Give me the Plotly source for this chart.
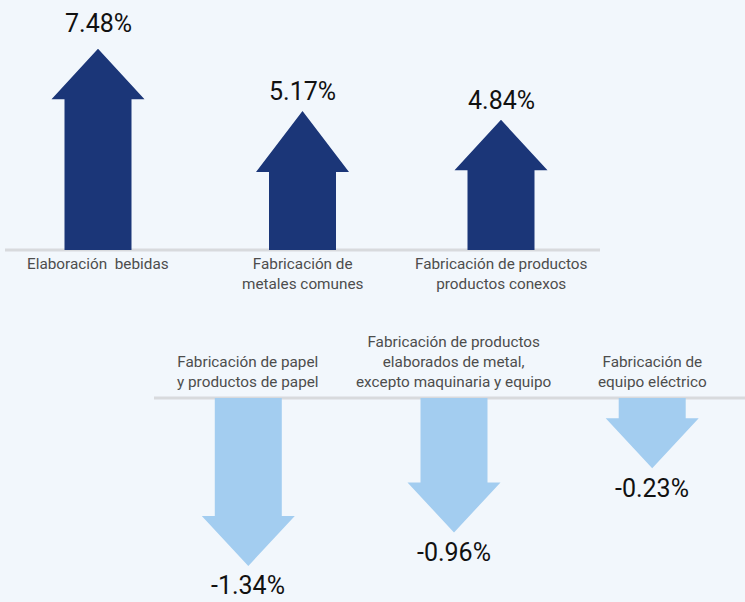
import plotly.graph_objects as go

# ---- data ----
up_categories = ["Elaboración  bebidas",
                 "Fabricación de<br>metales comunes",
                 "Fabricación de productos<br>productos conexos"]
up_values = [7.48, 5.17, 4.84]

down_categories = ["Fabricación de papel<br>y productos de papel",
                   "Fabricación de productos<br>elaborados de metal,<br>excepto maquinaria y equipo",
                   "Fabricación de<br>equipo eléctrico"]
down_values = [-1.34, -0.96, -0.23]

# ---- style / layout constants ----
W, H = 745, 602
BG = "#f2f7fc"
NAVY = "#1b3678"
LIGHT = "#a3cdf0"
BASE_COL = "#d8dadd"
FONT = "Roboto"
CAT_SIZE = 15.3
VAL_SIZE = 25

UP_X = [98, 302.5, 501]          # arrow centres (px along x axis)
DOWN_X = [248.3, 454, 652.2]
UP_BASE_PX, DOWN_BASE_PX = 250, 398
UP_SCALE = 26.9                  # px per % (top row, whole arrow)
DOWN_SCALE = 88.0                # px per % (bottom row, shaft)
SHAFT_HALF = 33.5
HEAD_HALF = 46.5
UP_HEAD_PX = [50.5, 61, 50.5]
DOWN_HEAD_PX = [50, 50, 50]
UP_LABEL_GAP = [24, 18.5, 18.5]

fig = go.Figure()

# y ranges so that axis coordinates map onto figure pixels
y1_range = [-(H - UP_BASE_PX) / UP_SCALE, UP_BASE_PX / UP_SCALE]
y2_range = [-(H - DOWN_BASE_PX) / DOWN_SCALE, DOWN_BASE_PX / DOWN_SCALE]

annotations = []

def fmt(v):
    return f"{v:.2f}%"

# up arrows (yaxis)
for i, (cat, v) in enumerate(zip(up_categories, up_values)):
    cx = UP_X[i]
    tip = v
    hb = v - UP_HEAD_PX[i] / UP_SCALE
    xs = [cx - SHAFT_HALF, cx - SHAFT_HALF, cx - HEAD_HALF, cx, cx + HEAD_HALF,
          cx + SHAFT_HALF, cx + SHAFT_HALF, cx - SHAFT_HALF]
    ys = [0, hb, hb, tip, hb, hb, 0, 0]
    fig.add_trace(go.Scatter(x=xs, y=ys, mode="lines", fill="toself",
                             fillcolor=NAVY, line=dict(width=0, color=NAVY),
                             hoverinfo="skip", showlegend=False, yaxis="y"))
    annotations.append(dict(x=cx, y=tip, xref="x", yref="y", text=fmt(v),
                            showarrow=False, yanchor="middle",
                            yshift=UP_LABEL_GAP[i] + 1,
                            font=dict(family=FONT, size=VAL_SIZE, color="#111111")))
    annotations.append(dict(x=cx, y=0, xref="x", yref="y", text=cat,
                            showarrow=False, yanchor="top", yshift=-3,
                            font=dict(family=FONT, size=CAT_SIZE, color="#4d4d4d")))

# down arrows (yaxis2)
for i, (cat, v) in enumerate(zip(down_categories, down_values)):
    cx = DOWN_X[i]
    hb = v
    tip = v - DOWN_HEAD_PX[i] / DOWN_SCALE
    xs = [cx - SHAFT_HALF, cx - SHAFT_HALF, cx - HEAD_HALF, cx, cx + HEAD_HALF,
          cx + SHAFT_HALF, cx + SHAFT_HALF, cx - SHAFT_HALF]
    ys = [0, hb, hb, tip, hb, hb, 0, 0]
    fig.add_trace(go.Scatter(x=xs, y=ys, mode="lines", fill="toself",
                             fillcolor=LIGHT, line=dict(width=0, color=LIGHT),
                             hoverinfo="skip", showlegend=False, yaxis="y2"))
    annotations.append(dict(x=cx, y=tip, xref="x", yref="y2", text=fmt(v),
                            showarrow=False, yanchor="middle", yshift=-21 + 1,
                            font=dict(family=FONT, size=VAL_SIZE, color="#111111")))
    annotations.append(dict(x=cx, y=0, xref="x", yref="y2", text=cat,
                            showarrow=False, yanchor="bottom", yshift=5,
                            font=dict(family=FONT, size=CAT_SIZE, color="#4d4d4d")))

shapes = [
    dict(type="line", xref="x", yref="y", x0=5, x1=600, y0=0, y1=0,
         line=dict(color=BASE_COL, width=3), layer="below"),
    dict(type="line", xref="x", yref="y2", x0=154, x1=745, y0=0, y1=0,
         line=dict(color=BASE_COL, width=3), layer="below"),
]

fig.update_layout(
    width=W, height=H,
    margin=dict(l=0, r=0, t=0, b=0),
    paper_bgcolor=BG, plot_bgcolor=BG,
    xaxis=dict(range=[0, W], visible=False, fixedrange=True),
    yaxis=dict(range=y1_range, visible=False, fixedrange=True),
    yaxis2=dict(range=y2_range, visible=False, fixedrange=True,
                overlaying="y"),
    annotations=annotations,
    shapes=shapes,
    font=dict(family=FONT),
)

fig.write_html("out.html", config={"displayModeBar": False},
               post_script="document.body.style.margin='0';"
                           "document.body.style.overflow='hidden';"
                           "document.body.style.background='" + BG + "';")
